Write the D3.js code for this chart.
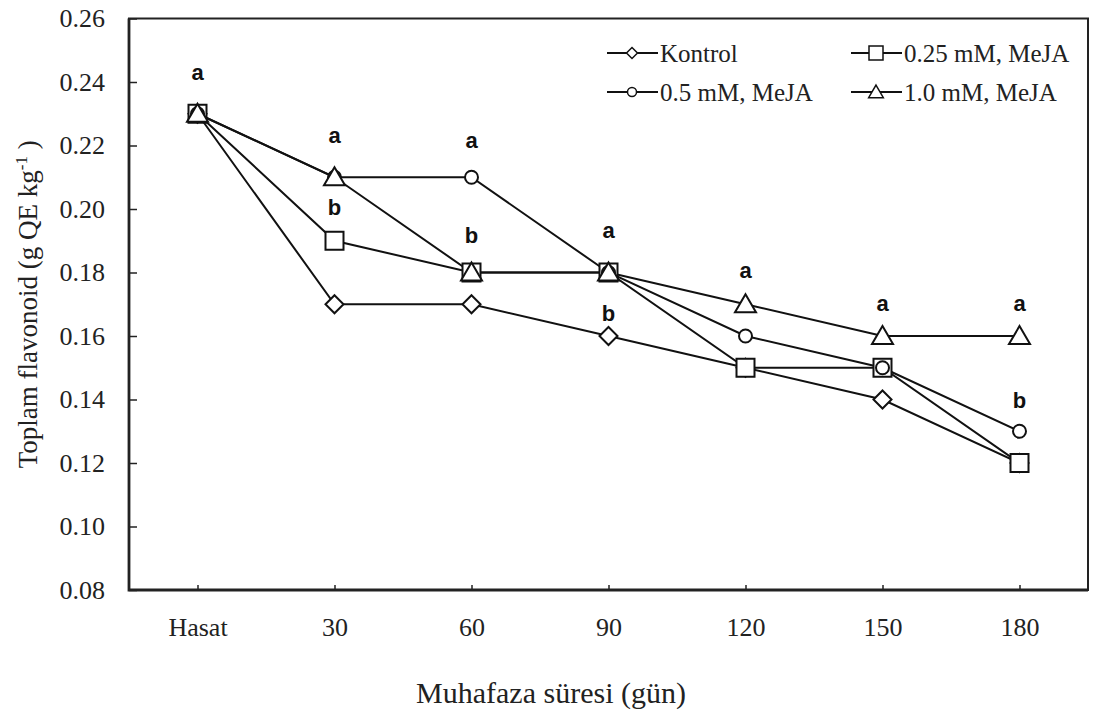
<!DOCTYPE html>
<html>
<head>
<meta charset="utf-8">
<script src="https://cdn.jsdelivr.net/npm/d3@7"></script>
<style>
  html, body { margin: 0; padding: 0; background: #fff; }
  svg { display: block; }
  .serif { font-family: "Liberation Serif", "Times New Roman", "DejaVu Serif", serif; }
  .sans { font-family: "Liberation Sans", Arial, sans-serif; }
</style>
</head>
<body>
<svg id="chart" width="1095" height="716"></svg>
<script>
// Storage time categories
const categories = ["Hasat", "30", "60", "90", "120", "150", "180"];

// Total flavonoid (g QE kg-1) per treatment
const kontrol = [0.23, 0.17, 0.17, 0.16, 0.15, 0.14, 0.12];
const meja025 = [0.23, 0.19, 0.18, 0.18, 0.15, 0.15, 0.12];
const meja05  = [0.23, 0.21, 0.21, 0.18, 0.16, 0.15, 0.13];
const meja10  = [0.23, 0.21, 0.18, 0.18, 0.17, 0.16, 0.16];

const seriesNames = ["Kontrol", "0.25 mM, MeJA", "0.5 mM, MeJA", "1.0 mM, MeJA"];
const seriesSymbols = ["diamond", "square", "circle", "triangle"];

// Y-axis ticks
const yTicks = [0.08, 0.10, 0.12, 0.14, 0.16, 0.18, 0.20, 0.22, 0.24, 0.26];

// Significance letters: category, letter, vertical position (data units)
const letterCats = ["Hasat", "30", "30", "60", "60", "90", "90", "120", "150", "180", "180"];
const letterText = ["a", "a", "b", "a", "b", "a", "b", "a", "a", "a", "b"];
const letterPos  = [0.2431, 0.2233, 0.2006, 0.2217, 0.1918, 0.1934, 0.1672, 0.1808, 0.1704, 0.1704, 0.1396];

const series = [kontrol, meja025, meja05, meja10].map((v, i) => ({
  name: seriesNames[i], symbol: seriesSymbols[i], values: v
}));

const svg = d3.select("#chart");
const m = { left: 129, right: 1088, top: 18.5, bottom: 590 };

const x = d3.scalePoint().domain(categories).range([m.left, m.right]).padding(0.5);
const y = d3.scaleLinear().domain([0.08, 0.26]).range([m.bottom, m.top]);

// Symbol path generators (centered at 0,0)
function symbolPath(type, s) {
  if (type === "square") {
    return `M${-s},${-s}H${s}V${s}H${-s}Z`;
  } else if (type === "diamond") {
    return `M0,${-s}L${s},0L0,${s}L${-s},0Z`;
  } else if (type === "triangle") {
    const h = s * 1.8;
    return `M0,${-h * 0.55}L${s * 1.05},${h * 0.45}L${-s * 1.05},${h * 0.45}Z`;
  } else {
    return d3.arc()({ innerRadius: 0, outerRadius: s, startAngle: 0, endAngle: 2 * Math.PI });
  }
}
const markerSize = { square: 9, diamond: 9, triangle: 10, circle: 6.5 };
const legendSize = { square: 7, diamond: 5.5, triangle: 7, circle: 4.5 };

// Axes (ticks pointing inward)
const yAxis = d3.axisLeft(y).tickValues(yTicks).tickFormat(d3.format(".2f")).tickSize(-8).tickPadding(24);
const xAxis = d3.axisBottom(x).tickSize(-5).tickPadding(28);

const gy = svg.append("g").attr("transform", `translate(${m.left},0)`).call(yAxis);
gy.attr("font-family", null).attr("font-size", null);
gy.select(".domain").remove();
gy.selectAll(".tick line").attr("stroke", "#222").attr("stroke-width", 1.5);
gy.selectAll(".tick text").attr("class", "serif").style("font-size", "26px").attr("fill", "#222");

const gx = svg.append("g").attr("transform", `translate(0,${m.bottom})`).call(xAxis);
gx.attr("font-family", null).attr("font-size", null);
gx.select(".domain").remove();
gx.selectAll(".tick line").attr("stroke", "#222").attr("stroke-width", 1.5);
gx.selectAll(".tick text").attr("class", "serif").style("font-size", "26px").attr("fill", "#222");

// Plot frame
svg.append("rect")
  .attr("x", m.left).attr("y", m.top)
  .attr("width", m.right - m.left).attr("height", m.bottom - m.top)
  .attr("fill", "none").attr("stroke", "#222").attr("stroke-width", 2);
svg.append("path")
  .attr("d", `M${m.left},${m.top}V${m.bottom}H${m.right}`)
  .attr("fill", "none").attr("stroke", "#222").attr("stroke-width", 2.8);

// Lines
const line = d3.line().x((d, i) => x(categories[i])).y(d => y(d));
svg.append("g").selectAll("path").data(series).join("path")
  .attr("d", d => line(d.values))
  .attr("fill", "none").attr("stroke", "#111").attr("stroke-width", 2);

// Markers
series.forEach(s => {
  svg.append("g").selectAll("path").data(s.values).join("path")
    .attr("transform", (d, i) => `translate(${x(categories[i])},${y(d)})`)
    .attr("d", symbolPath(s.symbol, markerSize[s.symbol]))
    .attr("fill", "#fff").attr("stroke", "#111").attr("stroke-width", 2);
});

// Significance letters
svg.append("g").selectAll("text").data(letterText).join("text")
  .attr("class", "sans")
  .attr("x", (d, i) => x(letterCats[i]))
  .attr("y", (d, i) => y(letterPos[i]))
  .attr("dy", "0.35em")
  .attr("text-anchor", "middle")
  .style("font-weight", "bold").style("font-size", "22px")
  .attr("fill", "#111")
  .text(d => d);

// Legend
const legendPos = [[632, 53], [876, 53], [632, 92], [876, 92]];
series.forEach((s, i) => {
  const [cx, cy] = legendPos[i];
  const g = svg.append("g").attr("transform", `translate(${cx},${cy})`);
  g.append("line").attr("x1", -25).attr("x2", 26).attr("stroke", "#111").attr("stroke-width", 2);
  g.append("path").attr("d", symbolPath(s.symbol, legendSize[s.symbol]))
    .attr("fill", "#fff").attr("stroke", "#111").attr("stroke-width", 1.5);
  g.append("text").attr("class", "serif").attr("x", 28).attr("dy", "0.34em")
    .style("font-size", "25px").attr("fill", "#222")
    .text(s.name);
});

// Axis titles
svg.append("text")
  .attr("class", "serif")
  .attr("x", 551).attr("y", 703)
  .attr("text-anchor", "middle")
  .style("font-size", "30px").attr("fill", "#222")
  .text("Muhafaza süresi (gün)");

const yt = svg.append("text")
  .attr("class", "serif")
  .attr("transform", `translate(37,${(m.top + m.bottom) / 2}) rotate(-90)`)
  .attr("text-anchor", "middle")
  .style("font-size", "27px").attr("fill", "#222");
yt.append("tspan").text("Toplam flavonoid (g QE kg");
yt.append("tspan").attr("dy", -10).style("font-size", "17px").text("-1");
yt.append("tspan").attr("dy", 10).text(" )");
</script>
</body>
</html>
